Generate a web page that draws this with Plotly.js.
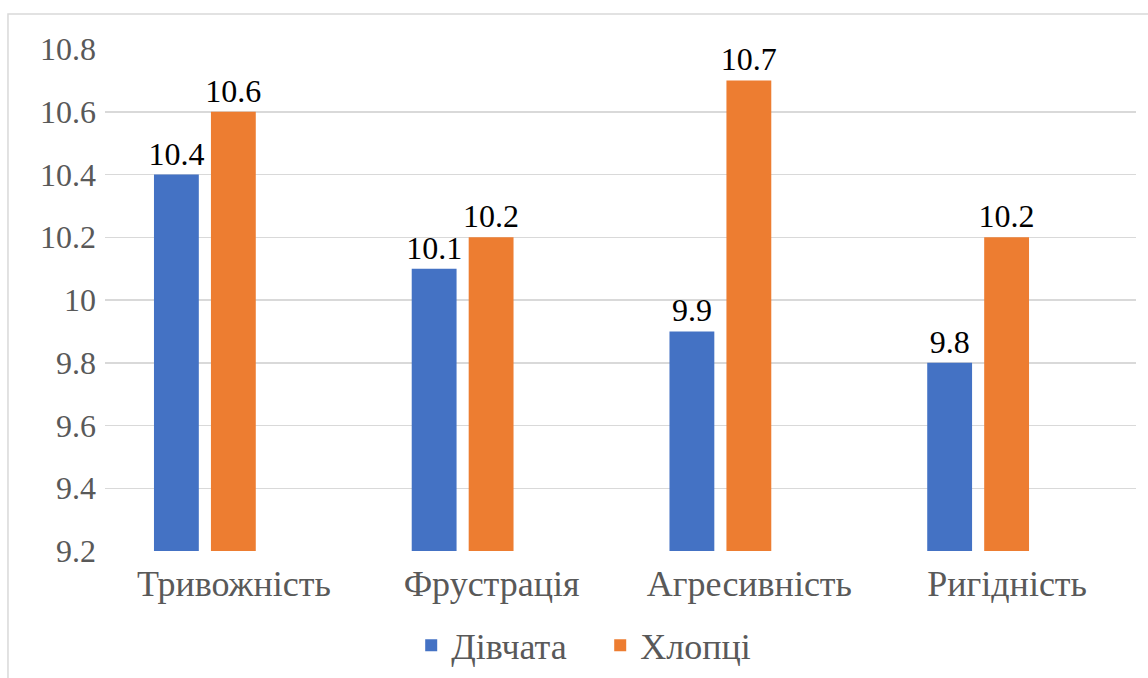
<!DOCTYPE html>
<html><head><meta charset="utf-8">
<script src="https://cdn.plot.ly/plotly-3.0.1.min.js"></script>
<style>html,body{margin:0;padding:0;background:#fff;}#chart{width:1148px;height:678px;}</style>
</head><body><div id="chart"></div>
<script>
const categories = ["Тривожність", "Фрустрація", "Агресивність", "Ригідність"];
const seriesNames = ["Дівчата", "Хлопці"];
const girls = [10.4, 10.1, 9.9, 9.8];
const boys = [10.6, 10.2, 10.7, 10.2];
const yTicks = [9.2, 9.4, 9.6, 9.8, 10, 10.2, 10.4, 10.6, 10.8];
const yTickLabels = ["9.2", "9.4", "9.6", "9.8", "10", "10.2", "10.4", "10.6", "10.8"];

const font = "Liberation Serif, Times New Roman, serif";
const mk = (name, vals, color, offset) => ({
  type: 'bar', name: name, x: categories, base: 9.2,
  y: vals.map(v => v - 9.2),
  marker: {color: color},
  width: 0.174, offset: offset,
  text: vals.map(v => String(v)), textposition: 'outside', cliponaxis: false,
  constraintext: 'none',
  textfont: {family: font, size: 32, color: '#000'},
  hoverinfo: 'skip'
});
const traces = [
  mk(seriesNames[0], girls, '#4472C4', -0.31),
  mk(seriesNames[1], boys, '#ED7D31', -0.089)
];
const layout = {
  width: 1148, height: 678,
  margin: {l: 105, r: 12, t: 49, b: 127},
  paper_bgcolor: '#fff', plot_bgcolor: '#fff',
  barmode: 'overlay',
  showlegend: true,
  font: {family: font},
  legend: {orientation: 'h', x: 0.297, xanchor: 'left', yref: 'container', y: 0.048, yanchor: 'middle',
    font: {family: font, size: 36, color: '#595959'}, entrywidth: 144, entrywidthmode: 'pixels',
    itemwidth: 30, traceorder: 'normal'},
  xaxis: {type: 'category', tickfont: {family: font, size: 36, color: '#595959'},
    showline: false, ticks: '', showgrid: false, automargin: false, ticklabelstandoff: 8},
  yaxis: {range: [9.2, 10.8], tickvals: yTicks, ticktext: yTickLabels,
    tickfont: {family: font, size: 32, color: '#595959'},
    showgrid: true, gridcolor: '#d9d9d9', gridwidth: 1.5, zeroline: false, showline: false,
    ticks: '', ticklabelstandoff: 8, automargin: false},
  shapes: [{type: 'rect', xref: 'paper', yref: 'paper', x0: -0.0941, x1: 1.3, y0: -0.6, y1: 1.0697,
    line: {color: '#d9d9d9', width: 1.5}, fillcolor: 'rgba(0,0,0,0)', layer: 'below'}]
};
Plotly.newPlot('chart', traces, layout, {displayModeBar: false, staticPlot: true});
</script></body></html>
